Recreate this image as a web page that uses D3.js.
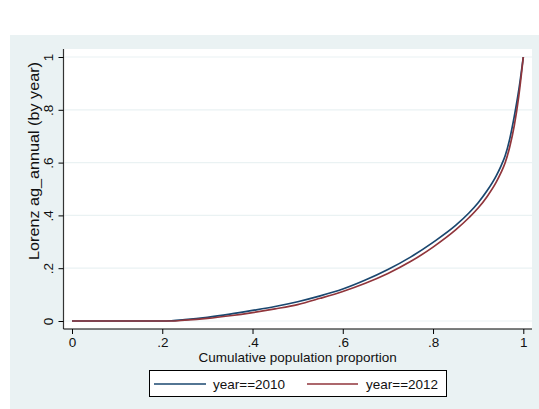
<!DOCTYPE html>
<html>
<head>
<meta charset="utf-8">
<script src="https://cdn.jsdelivr.net/npm/d3@7"></script>
<style>
  html, body { margin: 0; padding: 0; background: #ffffff; }
  svg { display: block; font-family: "Liberation Sans", Arial, Helvetica, sans-serif; }
</style>
</head>
<body>
<svg id="chart" width="539" height="409"></svg>
<script>
// Cumulative population proportion (shared x values of both Lorenz curves)
const popShare = [0, 0.1, 0.2, 0.22, 0.25, 0.3, 0.35, 0.4, 0.45, 0.5, 0.55, 0.6, 0.65,
                  0.7, 0.75, 0.8, 0.85, 0.88, 0.9, 0.92, 0.94, 0.95, 0.96, 0.97, 0.98, 0.99, 1];
// Lorenz ordinates of ag_annual by year
const lorenz2010 = [0, 0, 0, 0.001, 0.005, 0.014, 0.026, 0.040, 0.055, 0.073, 0.095, 0.121, 0.155,
                    0.195, 0.242, 0.298, 0.362, 0.41, 0.448, 0.494, 0.55, 0.585, 0.627, 0.69, 0.775, 0.875, 1];
const lorenz2012 = [0, 0, 0, 0, 0.003, 0.010, 0.020, 0.032, 0.046, 0.062, 0.086, 0.112, 0.143,
                    0.180, 0.225, 0.280, 0.345, 0.392, 0.428, 0.472, 0.526, 0.56, 0.60, 0.66, 0.74, 0.852, 1];
const seriesNames = ["year==2010", "year==2012"];
const seriesColors = ["#1a476f", "#90353b"];
const tickValues = [0, 0.2, 0.4, 0.6, 0.8, 1];
const tickLabels = ["0", ".2", ".4", ".6", ".8", "1"];

const svg = d3.select("#chart");
const bg = "#eaf2f3";

// graph region background
svg.append("rect").attr("x", 10).attr("y", 35).attr("width", 529).attr("height", 374).attr("fill", bg);

// plot region
const plotL = 63.5, plotR = 532, plotT = 49, plotB = 329;
svg.append("rect").attr("x", plotL).attr("y", plotT)
   .attr("width", plotR - plotL).attr("height", plotB - plotT).attr("fill", "#ffffff");

const x = d3.scaleLinear().domain([0, 1]).range([72, 523.3]);
const y = d3.scaleLinear().domain([0, 1]).range([321, 57]);

// horizontal grid lines
svg.append("g").selectAll("line").data(tickValues).join("line")
   .attr("x1", plotL + 1).attr("x2", plotR)
   .attr("y1", d => y(d)).attr("y2", d => y(d))
   .attr("stroke", bg).attr("stroke-width", 1.2);

// axes
const fmt = d => tickLabels[tickValues.indexOf(d)];
const yAxis = svg.append("g").attr("transform", `translate(${plotL},0)`)
   .call(d3.axisLeft(y).tickValues(tickValues).tickFormat(fmt).tickSize(5).tickPadding(3));
yAxis.select(".domain").attr("d", `M0,${plotT}V${plotB}`).attr("stroke", "#333").attr("stroke-width", 1.2);
yAxis.selectAll(".tick line").attr("stroke", "#000");
yAxis.selectAll(".tick text")
   .attr("x", null).attr("dy", null)
   .attr("transform", "translate(-11,0) rotate(-90)")
   .attr("text-anchor", "middle")
   .attr("font-size", 13.5).attr("fill", "#111");

const xAxis = svg.append("g").attr("transform", `translate(0,${plotB})`)
   .call(d3.axisBottom(x).tickValues(tickValues).tickFormat(fmt).tickSize(5).tickPadding(3));
xAxis.select(".domain").attr("d", `M${plotL},0H${plotR}`).attr("stroke", "#000").attr("stroke-width", 1.2);
xAxis.selectAll(".tick line").attr("stroke", "#000");
xAxis.selectAll(".tick text").attr("font-size", 13.5).attr("fill", "#111");
svg.selectAll(".tick text").attr("font-family", "Liberation Sans, Arial, sans-serif");

// axis titles
svg.append("text").attr("x", (x(0) + x(1)) / 2).attr("y", 362)
   .attr("text-anchor", "middle").attr("font-size", 13.5).attr("fill", "#111")
   .text("Cumulative population proportion");
svg.append("text").attr("transform", "translate(38.5,161) rotate(-90)")
   .attr("text-anchor", "middle").attr("font-size", 14).attr("fill", "#111")
   .attr("textLength", 198).attr("lengthAdjust", "spacingAndGlyphs")
   .text("Lorenz ag_annual (by year)");

// Lorenz curves
const line = d3.line().x(d => x(d[0])).y(d => y(d[1])).curve(d3.curveMonotoneX);
[lorenz2010, lorenz2012].forEach((vals, i) => {
  svg.append("path")
     .datum(popShare.map((p, j) => [p, vals[j]]))
     .attr("d", line).attr("fill", "none")
     .attr("stroke", seriesColors[i]).attr("stroke-width", 1.7);
});

// legend
const leg = svg.append("g");
leg.append("rect").attr("x", 149.5).attr("y", 370.5).attr("width", 297).attr("height", 26)
   .attr("fill", "#ffffff").attr("stroke", "#000").attr("stroke-width", 1);
const legItems = [{x1: 154, x2: 206, tx: 213}, {x1: 307, x2: 358, tx: 366}];
legItems.forEach((it, i) => {
  leg.append("line").attr("x1", it.x1).attr("x2", it.x2).attr("y1", 384).attr("y2", 384)
     .attr("stroke", seriesColors[i]).attr("stroke-width", 1.7);
  leg.append("text").attr("x", it.tx).attr("y", 389).attr("font-size", 13.5).attr("fill", "#111")
     .text(seriesNames[i]);
});
</script>
</body>
</html>
